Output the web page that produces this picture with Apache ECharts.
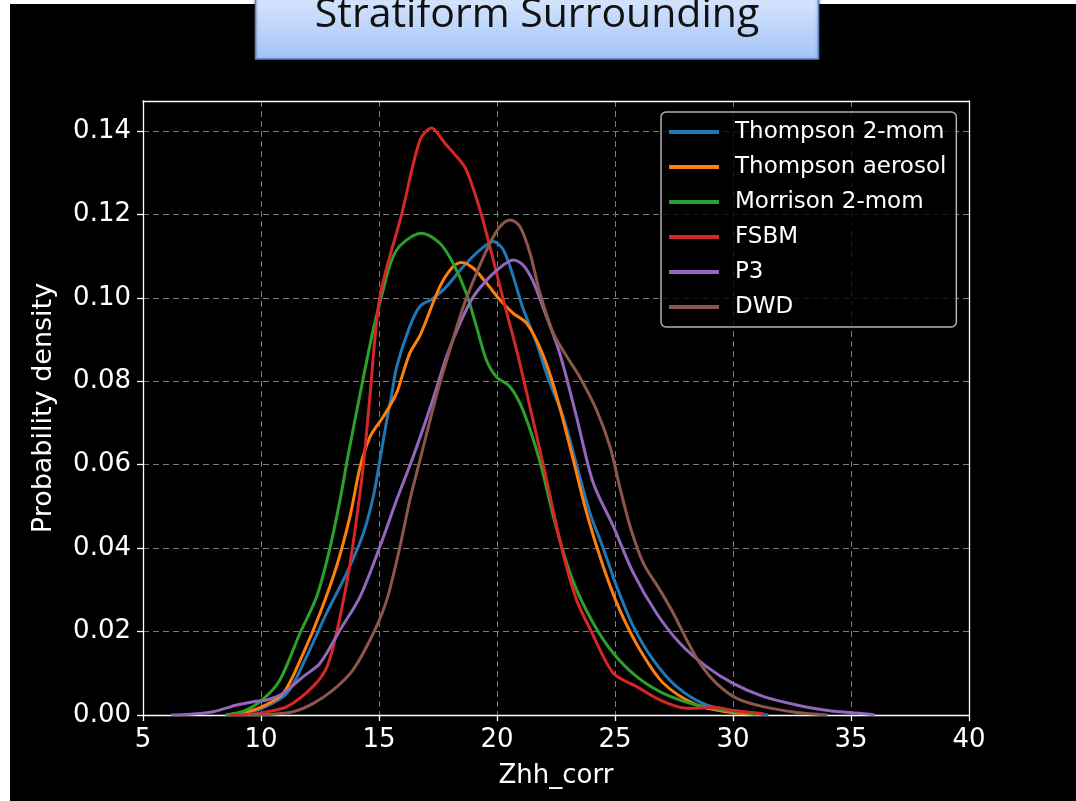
<!DOCTYPE html>
<html>
<head>
<meta charset="utf-8">
<script src="https://cdn.jsdelivr.net/npm/echarts@6/dist/echarts.min.js"></script>
<style>
  html, body { margin: 0; padding: 0; background: #ffffff; }
  #bg { position: absolute; left: 10px; top: 4px; width: 1066px; height: 797px; background: #000000; }
  #chart { position: absolute; left: 0; top: 0; width: 1076px; height: 801px; }
</style>
</head>
<body>
<div id="bg"></div>
<div id="chart"></div>
<script>
// ---- Data (x = Zhh_corr, y = probability density) ----
const seriesNames = ['Thompson 2-mom', 'Thompson aerosol', 'Morrison 2-mom', 'FSBM', 'P3', 'DWD'];
const seriesColors = ['#1f77b4', '#ff7f0e', '#2ca02c', '#d62728', '#9467bd', '#8c564b'];
const xTicks = [5, 10, 15, 20, 25, 30, 35, 40];
const yTicks = [0, 0.02, 0.04, 0.06, 0.08, 0.10, 0.12, 0.14];

const thompson2mom = [[8.5,0],[9.3,0.0006],[10.05,0.0016],[11.1,0.0052],[11.93,0.014],[12.78,0.0244],[13.63,0.034],[14.34,0.0436],[14.76,0.0524],[15.04,0.0612],[15.33,0.0707],[15.53,0.0765],[15.75,0.0835],[16.3,0.0931],[16.74,0.098],[17.3,0.0999],[17.86,0.1027],[18.57,0.1075],[19.28,0.1115],[19.84,0.1135],[20.27,0.1115],[20.69,0.1051],[21.1,0.0975],[21.68,0.0891],[22.15,0.081],[22.8,0.0715],[23.37,0.06],[23.94,0.0484],[24.5,0.04],[25.07,0.0308],[25.78,0.0212],[26.62,0.0132],[27.61,0.0068],[28.88,0.0024],[30.5,0.0006],[31.5,0]];
const thompsonAerosol = [[8.6,0],[9.3,0.0006],[10.05,0.002],[10.94,0.0052],[11.79,0.0148],[12.5,0.0244],[13.2,0.0356],[13.77,0.0476],[14.2,0.0595],[14.62,0.0667],[15.18,0.0715],[15.6,0.0755],[15.8,0.078],[16.3,0.0867],[16.74,0.091],[17.58,0.1027],[18.14,0.1075],[18.5,0.1085],[19.0,0.1071],[19.56,0.1035],[20.13,0.0995],[20.69,0.0963],[21.26,0.0939],[21.9,0.087],[22.5,0.077],[23.23,0.0612],[23.8,0.0484],[24.5,0.0356],[25.2,0.0252],[26.06,0.0156],[27.05,0.0076],[28.46,0.0024],[29.8,0.0007],[31,0.0001]];
const morrison2mom = [[8.5,0],[9.3,0.001],[10.05,0.0036],[10.8,0.0084],[11.65,0.0196],[12.36,0.0284],[12.92,0.04],[13.35,0.0516],[13.7,0.0625],[14.2,0.077],[14.76,0.0925],[15.18,0.102],[15.5,0.1085],[15.89,0.1125],[16.8,0.1155],[17.58,0.1131],[18.14,0.1083],[18.7,0.1011],[19.13,0.0931],[19.55,0.0851],[19.97,0.0811],[20.55,0.0787],[21.1,0.0731],[21.8,0.0611],[22.5,0.0452],[23.2,0.0324],[24.08,0.022],[24.93,0.0148],[25.92,0.0092],[27.05,0.0052],[28.46,0.0024],[29.8,0.001],[31,0.0002]];
const fsbm = [[8.7,0],[9.5,0.0002],[10,0.0005],[11.1,0.002],[12.2,0.0068],[12.8,0.0116],[13.2,0.0197],[13.63,0.0316],[13.9,0.041],[14.33,0.0595],[14.6,0.0755],[15.04,0.1003],[15.96,0.12],[16.74,0.1379],[17.23,0.1407],[17.8,0.137],[18.29,0.1339],[18.7,0.1307],[19.28,0.1211],[19.77,0.1107],[20.27,0.0995],[20.83,0.0875],[21.26,0.0772],[21.96,0.06],[22.74,0.04],[23.37,0.0276],[24.0,0.02],[24.93,0.01],[25.92,0.0068],[26.9,0.0036],[28.04,0.0016],[29.2,0.0018],[30.1,0.001],[31.3,0.0003]];
const p3 = [[6.2,0],[7,0.0002],[7.98,0.0008],[8.97,0.0024],[9.67,0.0032],[10.24,0.0036],[10.94,0.0052],[11.79,0.0092],[12.5,0.0124],[13.35,0.0204],[14.2,0.0284],[15.04,0.0404],[15.75,0.0516],[16.45,0.062],[17.3,0.0759],[17.86,0.0859],[18.43,0.0939],[19.0,0.1003],[19.7,0.1051],[20.27,0.1079],[20.69,0.1091],[21.1,0.1079],[21.5,0.1043],[22.0,0.097],[22.67,0.0865],[23.37,0.0715],[24.08,0.0556],[24.93,0.0452],[25.78,0.034],[26.76,0.0244],[27.75,0.0172],[28.88,0.0116],[30.0,0.0076],[31.3,0.0044],[32.7,0.0024],[34.1,0.001],[35.8,0.0002],[36,0]];
const dwd = [[9.5,0],[10.5,0.0002],[11.37,0.0008],[12.22,0.0028],[13.06,0.006],[13.9,0.0108],[14.76,0.0196],[15.33,0.0276],[15.89,0.0404],[16.31,0.0516],[16.74,0.0612],[17.44,0.0767],[18.0,0.0875],[18.57,0.0979],[19.13,0.1059],[19.7,0.1131],[20.13,0.1171],[20.55,0.1187],[20.97,0.1171],[21.4,0.1107],[21.82,0.1011],[22.39,0.0915],[22.95,0.086],[23.5,0.0811],[24.22,0.0731],[24.79,0.0643],[25.2,0.0547],[25.64,0.0452],[26.2,0.0364],[26.9,0.03],[27.47,0.0244],[28.04,0.018],[28.6,0.0124],[29.3,0.0076],[30.16,0.004],[31.28,0.002],[32.7,0.0006],[34,0]];
const seriesData = [thompson2mom, thompsonAerosol, morrison2mom, fsbm, p3, dwd];
const titleText = 'Stratiform Surrounding';

// ---- Chart ----
const chart = echarts.init(document.getElementById('chart'), null, { renderer: 'canvas' });
const fg = '#ffffff';
const tickFont = 'DejaVu Sans';

const option = {
  backgroundColor: 'transparent',
  animation: false,
  grid: { left: 143, right: 107, top: 101, bottom: 86, containLabel: false },
  xAxis: [{
    type: 'value', min: 5, max: 40, interval: 5,
    axisLine: { show: true, onZero: false, lineStyle: { color: fg, width: 1.3 } },
    axisTick: { show: true, inside: false, length: 6, lineStyle: { color: fg, width: 1.3 } },
    axisLabel: { color: fg, fontSize: 26, fontFamily: tickFont, margin: 12, customValues: xTicks },
    splitLine: { show: true, lineStyle: { color: '#7a7a7a', width: 1, type: [6, 4] } },
    name: 'Zhh_corr', nameLocation: 'middle', nameGap: 48,
    nameTextStyle: { color: fg, fontSize: 26, fontFamily: tickFont }
  }, {
    type: 'value', min: 5, max: 40, position: 'top',
    axisLine: { show: true, onZero: false, lineStyle: { color: fg, width: 1.3 } },
    axisTick: { show: false }, axisLabel: { show: false }, splitLine: { show: false }
  }],
  yAxis: [{
    type: 'value', min: 0, max: 0.1472, interval: 0.02,
    axisLine: { show: true, onZero: false, lineStyle: { color: fg, width: 1.3 } },
    axisTick: { show: true, inside: false, length: 6, lineStyle: { color: fg, width: 1.3 }, customValues: yTicks },
    axisLabel: { color: fg, fontSize: 26, fontFamily: tickFont, margin: 12, customValues: yTicks,
      formatter: v => v.toFixed(2) },
    splitLine: { show: true, lineStyle: { color: '#7a7a7a', width: 1, type: [6, 4] } },
    name: 'Probability density', nameLocation: 'middle', nameGap: 86, nameRotate: 90,
    nameTextStyle: { color: fg, fontSize: 27, fontFamily: tickFont }
  }, {
    type: 'value', min: 0, max: 0.1472, position: 'right',
    axisLine: { show: true, onZero: false, lineStyle: { color: fg, width: 1.3 } },
    axisTick: { show: false }, axisLabel: { show: false }, splitLine: { show: false }
  }],
  legend: {
    orient: 'vertical', left: 661, top: 112,
    padding: [8, 10, 8, 8],
    itemWidth: 50, itemHeight: 4, itemGap: 11,
    icon: 'rect',
    backgroundColor: 'rgba(0,0,0,0.8)',
    borderColor: '#b0b0b0', borderWidth: 1.5, borderRadius: 5,
    textStyle: { color: fg, fontSize: 23, fontFamily: tickFont, lineHeight: 24, padding: [0, 0, 0, 11] },
    data: seriesNames
  },
  series: seriesNames.map((name, i) => ({
    name: name, type: 'line', xAxisIndex: 0, yAxisIndex: 0,
    data: seriesData[i], smooth: 0.3, showSymbol: false, symbol: 'none',
    lineStyle: { color: seriesColors[i], width: 3 },
    itemStyle: { color: seriesColors[i] },
    z: 3 + i
  })),
  graphic: [{
    type: 'rect', z: 100, shape: { x: 255.5, y: -4, width: 563, height: 63 },
    style: {
      fill: new echarts.graphic.LinearGradient(0, 0, 0, 1, [
        { offset: 0, color: '#d8e6fd' }, { offset: 1, color: '#a3c3f7' }
      ]),
      stroke: '#5b82c4', lineWidth: 1.5,
      shadowColor: 'rgba(0,0,0,0.4)', shadowBlur: 3, shadowOffsetY: 1
    }
  }, {
    type: 'text', z: 101, x: 537, y: 15,
    style: { text: titleText, fill: '#111111', font: '41px "Open Sans", "Noto Sans", sans-serif',
      align: 'center', verticalAlign: 'middle' }
  }]
};
chart.setOption(option);
</script>
</body>
</html>
